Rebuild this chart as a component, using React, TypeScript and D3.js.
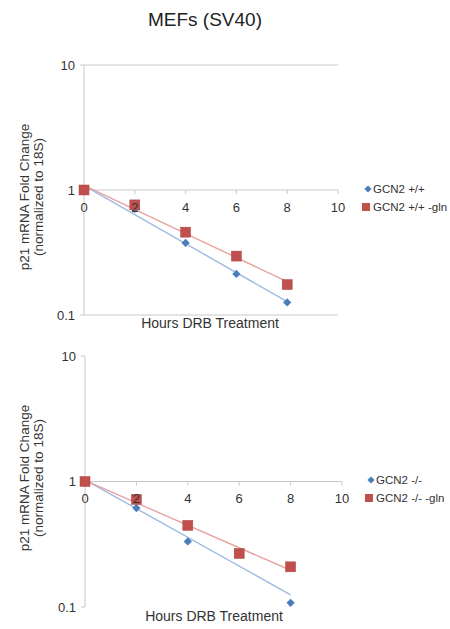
import React from "react";
import * as d3 from "d3";

const title = "MEFs (SV40)";
const hours = [0, 2, 4, 6, 8];
const xTicks = [0, 2, 4, 6, 8, 10];
const yTicks = [0.1, 1, 10];
const yTickLabels = ["0.1", "1", "10"];

const topWT = [1, 0.705, 0.377, 0.213, 0.126];
const topWTgln = [1, 0.76, 0.46, 0.296, 0.175];
const botKO = [1, 0.614, 0.333, 0.27, 0.108];
const botKOgln = [1, 0.72, 0.447, 0.267, 0.209];

const topNames = ["GCN2 +/+", "GCN2 +/+ -gln"];
const botNames = ["GCN2 -/-", "GCN2 -/- -gln"];

const yTitle1 = "p21 mRNA Fold Change";
const yTitle2 = "(normalized to 18S)";
const xTitle = "Hours DRB Treatment";

const BLUE = "#4a7ebb";
const RED = "#c0504d";
const BLUE_LINE = "#9dbbe0";
const RED_LINE = "#e8a3a1";
const AXIS = "#c8c8c8";
const TEXT = "#333";
const FONT = "Liberation Sans, Arial, sans-serif";

type PanelCfg = {
  x0: number; x1: number; y10: number; y01: number;
  grid: boolean; legX: number; legY: number; xTitleX: number; xTitleY: number; yTitleY: number;
};

const panels: { cfg: PanelCfg; blue: number[]; red: number[]; names: string[] }[] = [
  {
    cfg: { x0: 84, x1: 338, y10: 65, y01: 315, grid: true, legX: 368, legY: 189, xTitleX: 210, xTitleY: 328, yTitleY: 197 },
    blue: topWT, red: topWTgln, names: topNames,
  },
  {
    cfg: { x0: 85, x1: 342, y10: 356, y01: 607, grid: false, legX: 371, legY: 480, xTitleX: 214, xTitleY: 621, yTitleY: 478 },
    blue: botKO, red: botKOgln, names: botNames,
  },
];

function expFit(xs: number[], ys: number[]) {
  const ls = ys.map((v) => Math.log(v));
  const mx = d3.mean(xs)!;
  const my = d3.mean(ls)!;
  let num = 0, den = 0;
  xs.forEach((x, i) => { num += (x - mx) * (ls[i] - my); den += (x - mx) * (x - mx); });
  const b = num / den;
  const a = my - b * mx;
  return (x: number) => Math.exp(a + b * x);
}

function Panel({ cfg, blue, red, names }: { cfg: PanelCfg; blue: number[]; red: number[]; names: string[] }) {
  const x = d3.scaleLinear().domain([0, 10]).range([cfg.x0, cfg.x1]);
  const y = d3.scaleLog().domain([0.1, 10]).range([cfg.y01, cfg.y10]);
  const y1 = y(1);
  const fitB = expFit(hours, blue);
  const fitR = expFit(hours, red);
  const trendPath = (f: (v: number) => number) =>
    d3.line<number>().x((d) => x(d)).y((d) => y(f(d)))([0, 8]) || "";
  const diamond = d3.symbol().type(d3.symbolSquare).size(34)() || "";
  const legDiamond = d3.symbol().type(d3.symbolSquare).size(26)() || "";
  return (
    <g>
      {cfg.grid && (
        <g>
          <line x1={cfg.x0} x2={cfg.x1} y1={y(10)} y2={y(10)} stroke={AXIS} strokeWidth={1} />
          <line x1={cfg.x0} x2={cfg.x1} y1={y(0.1)} y2={y(0.1)} stroke={AXIS} strokeWidth={1} />
        </g>
      )}
      <line x1={cfg.x0} x2={cfg.x0} y1={y(10)} y2={y(0.1)} stroke={AXIS} strokeWidth={1} />
      {yTicks.map((t, i) => (
        <g key={t}>
          <line x1={cfg.x0 - 4} x2={cfg.x0} y1={y(t)} y2={y(t)} stroke={AXIS} />
          <text x={cfg.x0 - 9} y={y(t)} dy="0.35em" textAnchor="end" fontSize={13} fill={TEXT} fontFamily={FONT}>
            {yTickLabels[i]}
          </text>
        </g>
      ))}
      <line x1={cfg.x0} x2={cfg.x1} y1={y1} y2={y1} stroke={AXIS} strokeWidth={1} />
      {xTicks.map((t) => (
        <line key={t} x1={x(t)} x2={x(t)} y1={y1} y2={y1 + 4} stroke={AXIS} />
      ))}
      <path d={trendPath(fitB)} stroke={BLUE_LINE} strokeWidth={1.4} fill="none" />
      <path d={trendPath(fitR)} stroke={RED_LINE} strokeWidth={1.4} fill="none" />
      {hours.map((h, i) => (
        <path key={"b" + h} d={diamond} transform={`translate(${x(h)},${y(blue[i])}) rotate(45)`} fill={BLUE} />
      ))}
      {hours.map((h, i) => (
        <rect key={"r" + h} x={x(h) - 5} y={y(red[i]) - 5} width={10} height={10} fill={RED} stroke="#b04440" strokeWidth={0.5} />
      ))}
      {xTicks.map((t) => (
        <text key={t} x={x(t)} y={y1 + 17} dy="0.35em" textAnchor="middle" fontSize={13} fill={TEXT} fontFamily={FONT}>
          {t}
        </text>
      ))}
      <text x={cfg.xTitleX} y={cfg.xTitleY} textAnchor="middle" fontSize={14} fill={TEXT} fontFamily={FONT}>
        {xTitle}
      </text>
      <g transform={`translate(29,${cfg.yTitleY}) rotate(-90)`}>
        <text x={0} y={0} textAnchor="middle" fontSize={13.5} fill={TEXT} fontFamily={FONT}>{yTitle1}</text>
        <text x={0} y={13.5} textAnchor="middle" fontSize={13.5} fill={TEXT} fontFamily={FONT}>{yTitle2}</text>
      </g>
      <path d={legDiamond} transform={`translate(${cfg.legX},${cfg.legY}) rotate(45)`} fill={BLUE} />
      <text x={cfg.legX + 5} y={cfg.legY} dy="0.35em" fontSize={11.5} fill={TEXT} fontFamily={FONT}>{names[0]}</text>
      <rect x={cfg.legX - 6} y={cfg.legY + 18 - 4} width={8} height={8} fill={RED} />
      <text x={cfg.legX + 5} y={cfg.legY + 18} dy="0.35em" fontSize={11.5} fill={TEXT} fontFamily={FONT}>{names[1]}</text>
    </g>
  );
}

export default function App() {
  return (
    <svg width={450} height={629} style={{ position: "absolute", left: 0, top: 0, background: "#fff" }}>
      <rect width={450} height={629} fill="#fff" />
      <text x={205} y={26} textAnchor="middle" fontSize={19} fill="#222" fontFamily={FONT}>{title}</text>
      {panels.map((p, i) => (
        <Panel key={i} cfg={p.cfg} blue={p.blue} red={p.red} names={p.names} />
      ))}
    </svg>
  );
}
